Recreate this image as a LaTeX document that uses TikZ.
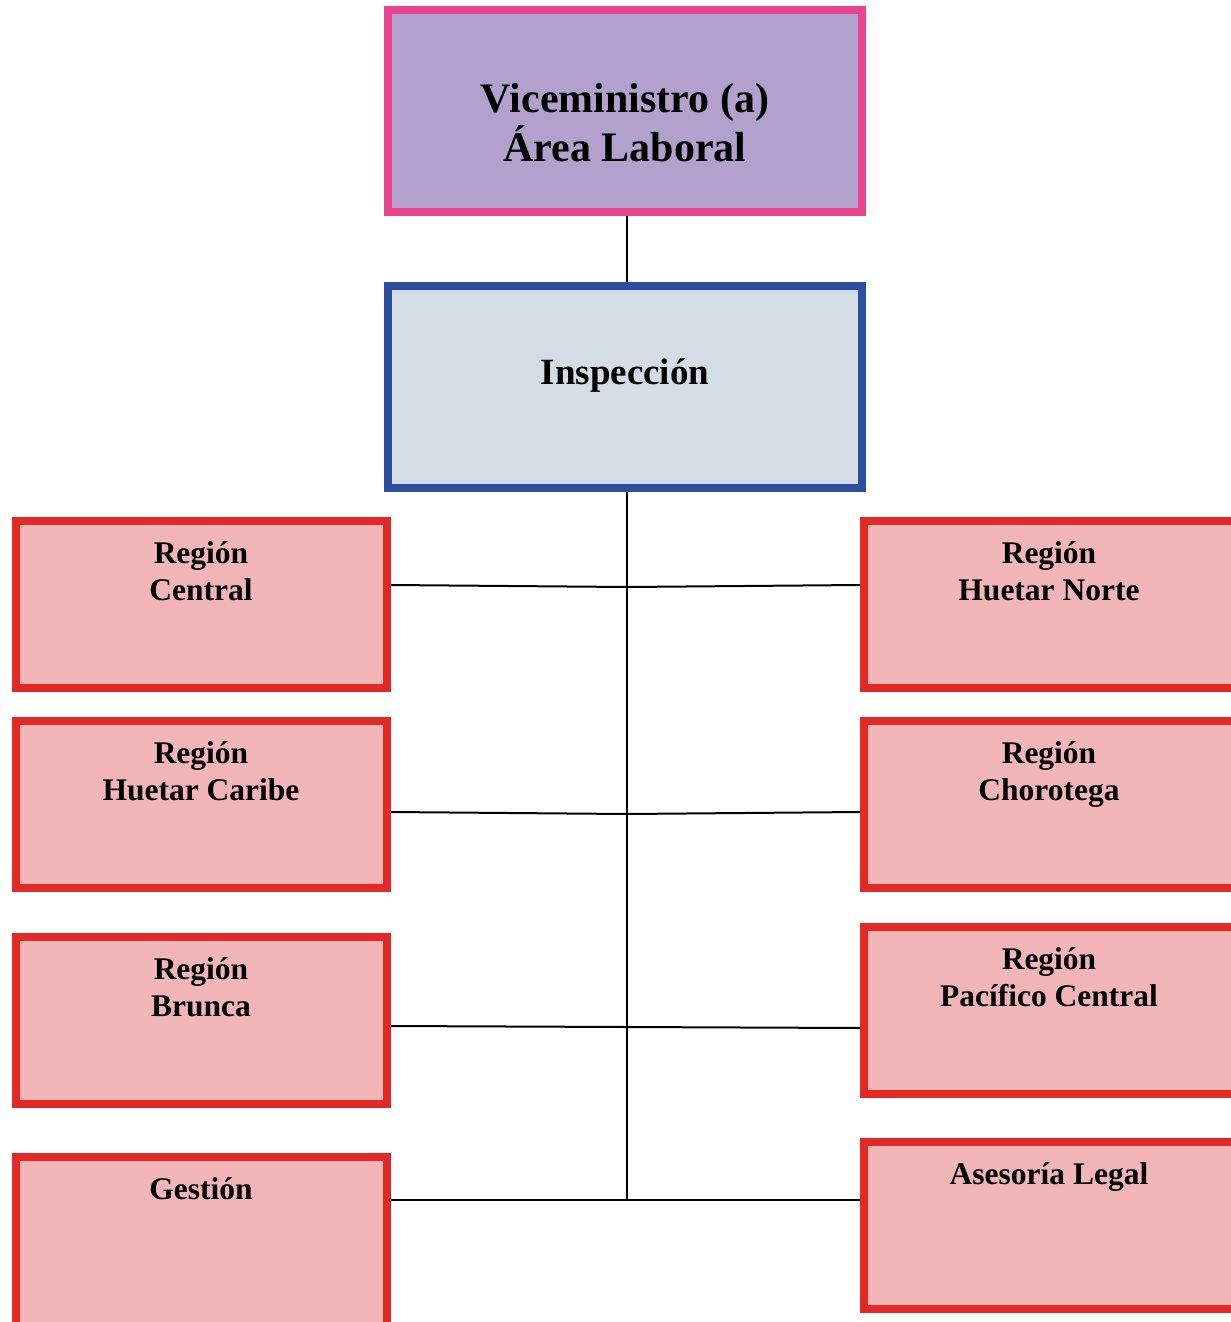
\documentclass[tikz,border=0pt]{standalone}
\usepackage{fontspec}
\setmainfont{Liberation Serif}
\usetikzlibrary{backgrounds}
\definecolor{vicefill}{HTML}{B2A1CD}
\definecolor{vicedraw}{HTML}{E8438D}
\definecolor{insfill}{HTML}{D4DDE5}
\definecolor{insdraw}{HTML}{2B4E9D}
\definecolor{regfill}{HTML}{F2B6B8}
\definecolor{regdraw}{HTML}{E32925}
\begin{document}
\begin{tikzpicture}[x=1pt,y=-1pt,
  topbox/.style={draw=vicedraw, fill=vicefill, line width=8pt, minimum width=474pt, minimum height=202pt, inner sep=0pt},
  insbox/.style={draw=insdraw, fill=insfill, line width=8pt, minimum width=474pt, minimum height=202pt, inner sep=0pt},
  regbox/.style={draw=regdraw, fill=regfill, line width=8pt, minimum width=371pt, minimum height=167pt, inner sep=0pt},
  lblbig/.style={anchor=base, align=center, inner sep=0pt, font=\bfseries\fontsize{42}{49}\selectfont},
  lblmid/.style={anchor=base, align=center, inner sep=0pt, font=\bfseries\fontsize{37}{44}\selectfont},
  lbl/.style={anchor=base, align=center, inner sep=0pt, font=\bfseries\fontsize{31.5}{37}\selectfont},
  conn/.style={draw=black, line width=2pt}]
\path[use as bounding box] (0,0) rectangle (1231,1322);
\clip (0,0) rectangle (1231,1322);

\node[topbox] (vice) at (625,111) {};
\node[lblbig] (vicet) at (625,161) {Viceministro (a)\\Área Laboral};
\node[insbox] (insp) at (625,387) {};
\node[lblmid] (inspt) at (625,384) {Inspección};

\node[regbox] (central) at (201.5,604.5) {};
\node[regbox] (caribe) at (201.5,804.5) {};
\node[regbox] (brunca) at (201.5,1020.5) {};
\node[regbox, minimum height=190pt] (gestion) at (201.5,1252) {};
\node[regbox] (hnorte) at (1049.5,604.5) {};
\node[regbox] (choro) at (1049.5,804.5) {};
\node[regbox] (pacif) at (1049.5,1010.5) {};
\node[regbox] (asesor) at (1049.5,1225) {};

\node[lbl] (centralt) at (201,600) {Región\\Central};
\node[lbl] (caribet) at (201,800) {Región\\Huetar Caribe};
\node[lbl] (bruncat) at (201,1016) {Región\\Brunca};
\node[lbl] (gestiont) at (201,1199) {Gestión};
\node[lbl] (hnortet) at (1049,600) {Región\\Huetar Norte};
\node[lbl] (chorot) at (1049,800) {Región\\Chorotega};
\node[lbl] (pacift) at (1049,1006) {Región\\Pacífico Central};
\node[lbl] (asesort) at (1049,1184) {Asesoría Legal};

\coordinate (j1) at (627,587);
\coordinate (j2) at (627,814);
\coordinate (j3) at (627,1027);
\coordinate (j4) at (627,1200);

\begin{scope}[on background layer]
\draw[conn] (vice.south -| j4) -- (insp.north -| j4);
\draw[conn] (insp.south -| j4) -- (j4);
\draw[conn] ([yshift=19.5pt]central.east) -- (j1) -- ([yshift=19.5pt]hnorte.west);
\draw[conn] ([yshift=-7.5pt]caribe.east) -- (j2) -- ([yshift=-7.5pt]choro.west);
\draw[conn] ([yshift=-5.5pt]brunca.east) -- (j3) -- ([yshift=-17.5pt]pacif.west);
\draw[conn] (gestion.east |- j4) -- (j4) -- (asesor.west |- j4);
\end{scope}
\end{tikzpicture}
\end{document}
